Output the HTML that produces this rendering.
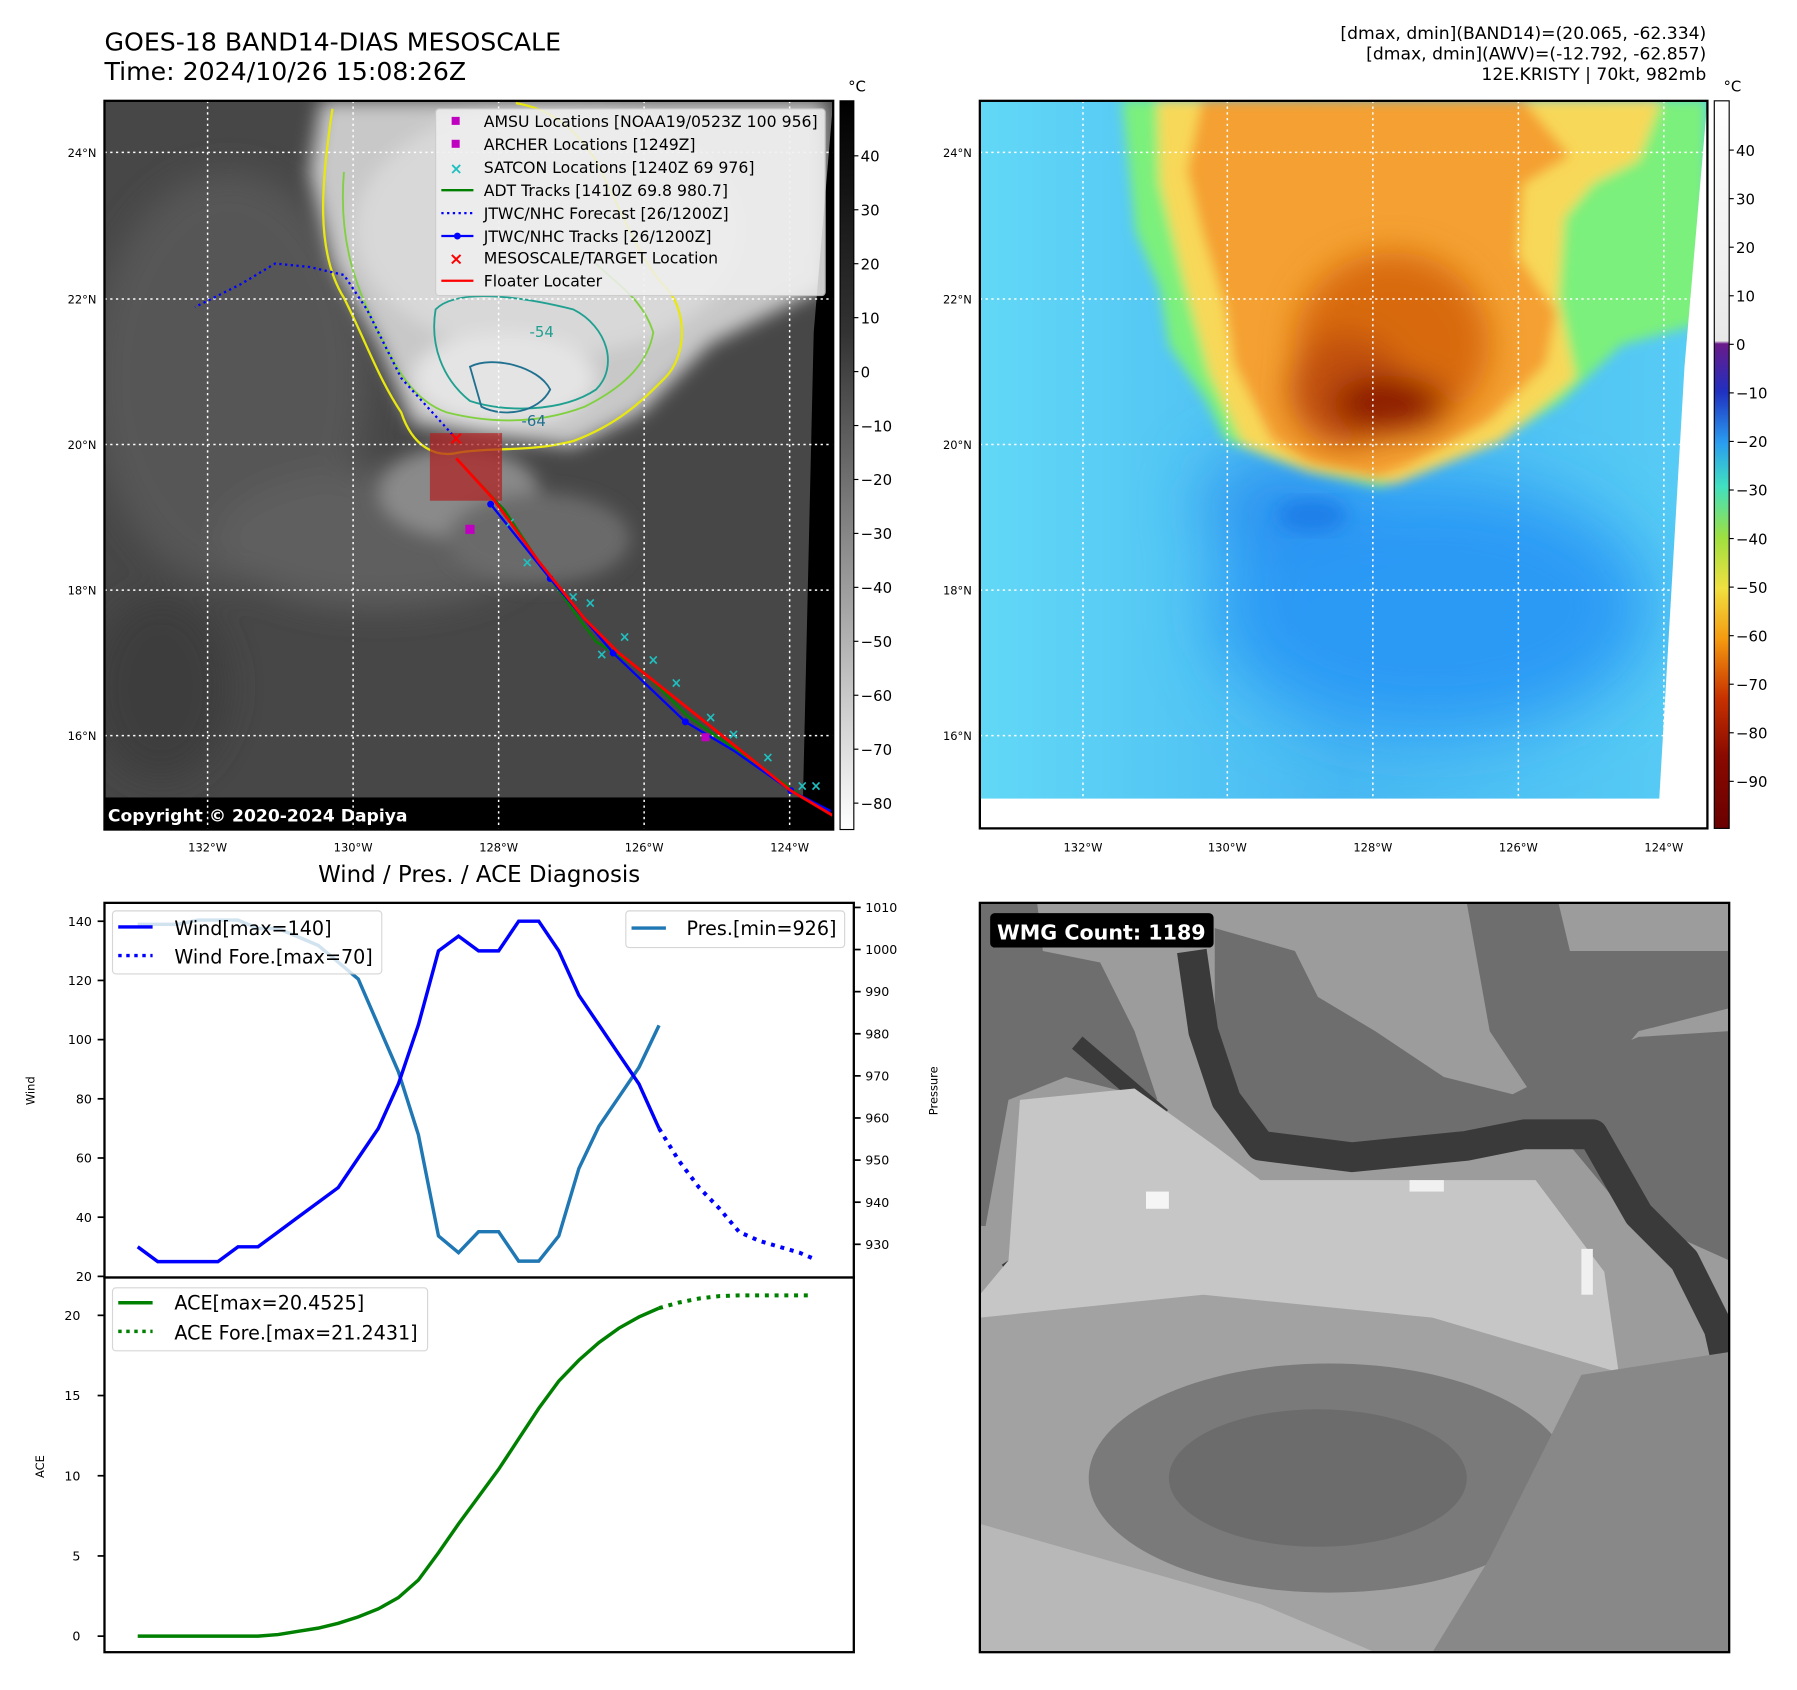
<!DOCTYPE html>
<html><head><meta charset="utf-8"><title>GOES-18 BAND14 KRISTY</title>
<style>
html,body{margin:0;padding:0;background:#fff;}
svg{display:block;}
text{font-family:"DejaVu Sans","Liberation Sans",sans-serif;}
</style></head>
<body>
<svg id="root" width="1797" height="1690" viewBox="0 0 1568 1475" xmlns="http://www.w3.org/2000/svg">
<defs>
  <filter id="blur5" x="-20%" y="-20%" width="140%" height="140%"><feGaussianBlur stdDeviation="5"/></filter>
  <filter id="blur8" x="-20%" y="-20%" width="140%" height="140%"><feGaussianBlur stdDeviation="8"/></filter>
  <filter id="blur14" x="-20%" y="-20%" width="140%" height="140%"><feGaussianBlur stdDeviation="14"/></filter>
  <filter id="blur30" x="-30%" y="-30%" width="160%" height="160%"><feGaussianBlur stdDeviation="30"/></filter>
  <linearGradient id="cb1" x1="0" y1="0" x2="0" y2="1">
    <stop offset="0" stop-color="#000"/><stop offset="0.32" stop-color="#333"/><stop offset="0.6" stop-color="#888"/><stop offset="1" stop-color="#fff"/>
  </linearGradient>
  <linearGradient id="cb2" x1="0" y1="0" x2="0" y2="1">
    <stop offset="0" stop-color="#fff"/><stop offset="0.33" stop-color="#e8e8e8"/><stop offset="0.334" stop-color="#6a1a8a"/>
    <stop offset="0.4" stop-color="#2030c0"/><stop offset="0.47" stop-color="#2a9df0"/><stop offset="0.53" stop-color="#40e0c0"/>
    <stop offset="0.6" stop-color="#9ee040"/><stop offset="0.67" stop-color="#f0e040"/><stop offset="0.74" stop-color="#f59a10"/>
    <stop offset="0.82" stop-color="#c83200"/><stop offset="0.9" stop-color="#8a0a00"/><stop offset="1" stop-color="#6a0000"/>
  </linearGradient>
  <linearGradient id="bg2" x1="0" y1="0" x2="1" y2="0">
    <stop offset="0" stop-color="#62d8f6"/><stop offset="0.5" stop-color="#48b8f2"/><stop offset="1" stop-color="#58cdf5"/>
  </linearGradient>
  <clipPath id="clip1"><rect x="91" y="88" width="636" height="636"/></clipPath>
  <clipPath id="clip2"><rect x="855" y="88" width="635" height="635"/></clipPath>
  <clipPath id="clip3"><rect x="855" y="788" width="654" height="654"/></clipPath>
</defs>

<text x="91" y="44" font-size="22">GOES-18 BAND14-DIAS MESOSCALE</text>
<text x="91" y="70" font-size="22">Time: 2024/10/26 15:08:26Z</text>
<g font-size="15" text-anchor="end">
  <text x="1489" y="34">[dmax, dmin](BAND14)=(20.065, -62.334)</text>
  <text x="1489" y="52">[dmax, dmin](AWV)=(-12.792, -62.857)</text>
  <text x="1489" y="70">12E.KRISTY | 70kt, 982mb</text>
</g>

<!-- MAP 1 -->
<g clip-path="url(#clip1)">
  <rect x="91" y="88" width="636" height="636" fill="#474747"/>
  <g filter="url(#blur14)">
    <ellipse cx="200" cy="330" rx="120" ry="180" fill="#575757"/>
    <ellipse cx="330" cy="470" rx="140" ry="60" fill="#5e5e5e"/>
    <ellipse cx="140" cy="600" rx="60" ry="80" fill="#3c3c3c"/>
  </g>
  <g filter="url(#blur8)">
    <path d="M280 88 L720 88 L720 250 L620 300 L560 360 L500 390 L420 380 L360 370 L330 300 L290 230 L270 150 Z" fill="#c8c8c8"/>
    <ellipse cx="480" cy="200" rx="170" ry="110" fill="#d8d8d8"/>
    <ellipse cx="440" cy="330" rx="80" ry="40" fill="#e4e4e4"/>
    <ellipse cx="400" cy="430" rx="70" ry="40" fill="#8a8a8a"/>
    <ellipse cx="470" cy="470" rx="80" ry="40" fill="#6a6a6a"/>
  </g>
  <path d="M710 290 L727 88 L727 724 L700 724 Z" fill="#000"/>
  <rect x="91" y="696" width="636" height="28" fill="#000"/>
  <path d="M290 95 C280 160 275 220 300 260 C320 300 330 330 350 360 C360 390 380 400 400 395 C430 390 460 395 500 385 C540 370 560 350 580 330 C600 310 600 270 580 250 C560 230 540 180 520 140 C500 110 480 95 450 90" fill="none" stroke="#e8e810" stroke-width="2"/>
  <path d="M300 150 C295 210 310 250 330 290 C345 320 360 350 390 360 C430 370 470 370 510 355 C540 340 565 320 570 290 C560 260 540 250 520 230" fill="none" stroke="#80d040" stroke-width="1.6"/>
  <path d="M380 270 C400 250 460 260 500 270 C530 285 540 320 520 340 C490 360 440 360 410 350 C385 330 375 300 380 270 Z" fill="none" stroke="#20a090" stroke-width="1.6"/>
  <path d="M410 320 C430 310 470 320 480 340 C470 360 440 365 420 355 Z" fill="none" stroke="#207090" stroke-width="1.6"/>
  <text x="462" y="294" font-size="13" fill="#20a090">-54</text>
  <text x="455" y="372" font-size="13" fill="#207090">-64</text>
  <g stroke="#fff" stroke-width="1.3" stroke-dasharray="2,3">
    <line x1="91" y1="133" x2="727" y2="133"/><line x1="91" y1="261" x2="727" y2="261"/><line x1="91" y1="388" x2="727" y2="388"/><line x1="91" y1="515" x2="727" y2="515"/><line x1="91" y1="642" x2="727" y2="642"/>
    <line x1="181" y1="88" x2="181" y2="724"/><line x1="308" y1="88" x2="308" y2="724"/><line x1="435" y1="88" x2="435" y2="724"/><line x1="562" y1="88" x2="562" y2="724"/><line x1="689" y1="88" x2="689" y2="724"/>
  </g>
  <rect x="375" y="378" width="63" height="59" fill="#b02020" opacity="0.7"/>
  <path d="M398 383 L350 330 L320 270 L300 240 L270 233 L240 230 L210 248 L170 268" fill="none" stroke="#0000ff" stroke-width="2" stroke-dasharray="2,3"/>
  <path d="M398 400 L440 445 L480 505 L520 560 L560 585 L600 625 L650 660 L700 695 L727 712" fill="none" stroke="#008000" stroke-width="2"/>
  <path d="M428 440 L480 505 L535 570 L598 630 L640 655 L690 690 L725 708" fill="none" stroke="#0000ff" stroke-width="2"/>
  <g fill="#0000ff"><circle cx="428" cy="440" r="3"/><circle cx="480" cy="505" r="3"/><circle cx="535" cy="570" r="3"/><circle cx="598" cy="630" r="3"/><circle cx="690" cy="690" r="3"/></g>
  <g fill="#20c0c0" font-size="12" font-weight="bold" text-anchor="middle">
    <text x="445" y="460">×</text><text x="460" y="495">×</text><text x="500" y="525">×</text><text x="515" y="530">×</text><text x="525" y="575">×</text><text x="545" y="560">×</text><text x="570" y="580">×</text><text x="590" y="600">×</text><text x="620" y="630">×</text><text x="640" y="645">×</text><text x="670" y="665">×</text><text x="700" y="690">×</text><text x="712" y="690">×</text>
  </g>
  <path d="M398 400 L430 435 L470 490 L510 540 L540 570 L590 610 L640 650 L690 690 L727 712" fill="none" stroke="#ff0000" stroke-width="2.5"/>
  <rect x="406" y="458" width="8" height="8" fill="#c000c0"/>
  <rect x="612" y="640" width="7" height="7" fill="#c000c0"/>
  <text x="398" y="388" font-size="16" fill="#ff0000" font-weight="bold" text-anchor="middle">×</text>
  <g>
    <rect x="380" y="95" width="340" height="163" fill="#f0f0f0" opacity="0.85" stroke="#ccc" rx="3"/>
    <g font-size="13.7">
      <rect x="394" y="102" width="7" height="7" fill="#c000c0"/><text x="422" y="111">AMSU Locations [NOAA19/0523Z 100 956]</text>
      <rect x="394" y="122" width="7" height="7" fill="#c000c0"/><text x="422" y="131">ARCHER Locations [1249Z]</text>
      <text x="398" y="152" fill="#20c0c0" text-anchor="middle" font-weight="bold">×</text><text x="422" y="151">SATCON Locations [1240Z 69 976]</text>
      <line x1="385" y1="166" x2="413" y2="166" stroke="#008000" stroke-width="2"/><text x="422" y="171">ADT Tracks [1410Z 69.8 980.7]</text>
      <line x1="385" y1="186" x2="413" y2="186" stroke="#0000ff" stroke-width="2" stroke-dasharray="2,3"/><text x="422" y="191">JTWC/NHC Forecast [26/1200Z]</text>
      <line x1="385" y1="206" x2="413" y2="206" stroke="#0000ff" stroke-width="2"/><circle cx="399" cy="206" r="3" fill="#0000ff"/><text x="422" y="211">JTWC/NHC Tracks [26/1200Z]</text>
      <text x="398" y="231" fill="#ff0000" text-anchor="middle" font-weight="bold" font-size="15">×</text><text x="422" y="230">MESOSCALE/TARGET Location</text>
      <line x1="385" y1="245" x2="413" y2="245" stroke="#ff0000" stroke-width="2"/><text x="422" y="250">Floater Locater</text>
    </g>
  </g>
  <text x="94" y="717" font-size="15" font-weight="bold" fill="#fff">Copyright © 2020-2024 Dapiya</text>
</g>
<rect x="91" y="88" width="636" height="636" fill="none" stroke="#000" stroke-width="2"/>
<g font-size="10" text-anchor="end">
  <text x="84" y="137">24°N</text><text x="84" y="265">22°N</text><text x="84" y="392">20°N</text><text x="84" y="519">18°N</text><text x="84" y="646">16°N</text>
</g>
<g font-size="10" text-anchor="middle">
  <text x="181" y="743">132°W</text><text x="308" y="743">130°W</text><text x="435" y="743">128°W</text><text x="562" y="743">126°W</text><text x="689" y="743">124°W</text>
</g>
<g>
  <rect x="733" y="88" width="12" height="636" fill="url(#cb1)" stroke="#000"/>
  <text x="740" y="80" font-size="13">°C</text>
  <g font-size="13" id="cb1ticks"></g>
</g>

<!-- MAP 2 -->
<g clip-path="url(#clip2)">
  <rect x="855" y="88" width="635" height="635" fill="url(#bg2)"/>
  <g filter="url(#blur30)">
    <ellipse cx="1250" cy="530" rx="190" ry="110" fill="#2a9af5"/>
    <ellipse cx="1120" cy="440" rx="70" ry="40" fill="#2a90f0"/>
  </g>
  <ellipse cx="1145" cy="450" rx="30" ry="14" fill="#1f7ee8" filter="url(#blur8)"/>
  <g filter="url(#blur5)">
    <path d="M979 87 L1489 87 L1489 281 L1415 301 L1362 351 L1308 384 L1226 417 L1205 425 L1143 412 L1110 400 L1069 384 L1053 351 L1020 301 L1012 252 L991 202 Z" fill="#7cf07c"/>
    <path d="M1010 87 L1450 87 L1430 140 L1390 160 L1365 190 L1360 260 L1375 330 L1310 385 L1218 422 L1140 410 L1085 388 L1055 325 L1033 245 L1012 160 Z" fill="#f8d858"/>
    <path d="M1049 87 L1329 87 L1370 136 L1329 161 L1325 223 L1358 272 L1349 318 L1300 367 L1226 408 L1201 417 L1143 404 L1110 384 L1077 318 L1069 268 L1049 202 L1036 149 Z" fill="#f4a030"/>
  </g>
  <g filter="url(#blur14)">
    <ellipse cx="1215" cy="300" rx="85" ry="80" fill="#d86a10"/>
    <ellipse cx="1175" cy="340" rx="50" ry="50" fill="#c05008"/>
    <ellipse cx="1212" cy="352" rx="50" ry="24" fill="#8a1800"/>
  </g>
  <path d="M1470 320 L1490 88 L1490 723 L1448 723 L1448 697 Z" fill="#fff"/>
  <rect x="855" y="697" width="635" height="26" fill="#fff"/>
  <g stroke="#fff" stroke-width="1.3" stroke-dasharray="2,3">
    <line x1="855" y1="133" x2="1490" y2="133"/><line x1="855" y1="261" x2="1490" y2="261"/><line x1="855" y1="388" x2="1490" y2="388"/><line x1="855" y1="515" x2="1490" y2="515"/><line x1="855" y1="642" x2="1490" y2="642"/>
    <line x1="945" y1="88" x2="945" y2="723"/><line x1="1071" y1="88" x2="1071" y2="723"/><line x1="1198" y1="88" x2="1198" y2="723"/><line x1="1325" y1="88" x2="1325" y2="723"/><line x1="1452" y1="88" x2="1452" y2="723"/>
  </g>
</g>
<rect x="855" y="88" width="635" height="635" fill="none" stroke="#000" stroke-width="2"/>
<g font-size="10" text-anchor="end">
  <text x="848" y="137">24°N</text><text x="848" y="265">22°N</text><text x="848" y="392">20°N</text><text x="848" y="519">18°N</text><text x="848" y="646">16°N</text>
</g>
<g font-size="10" text-anchor="middle">
  <text x="945" y="743">132°W</text><text x="1071" y="743">130°W</text><text x="1198" y="743">128°W</text><text x="1325" y="743">126°W</text><text x="1452" y="743">124°W</text>
</g>
<g>
  <rect x="1496" y="88" width="13" height="635" fill="url(#cb2)" stroke="#000"/>
  <text x="1504" y="80" font-size="13">°C</text>
  <g font-size="13" id="cb2ticks"></g>
</g>

<!-- DIAGNOSIS CHART -->
<text x="418" y="770" font-size="20" text-anchor="middle">Wind / Pres. / ACE Diagnosis</text>
<g id="diag">
  <rect x="91" y="788" width="654" height="327" fill="#fff" stroke="#000" stroke-width="2"/>
  <rect x="91" y="1115" width="654" height="327" fill="#fff" stroke="#000" stroke-width="2"/>
  <text transform="translate(30,952) rotate(-90)" font-size="10" text-anchor="middle">Wind</text>
  <text transform="translate(818,952) rotate(-90)" font-size="10" text-anchor="middle">Pressure</text>
  <text transform="translate(38,1280) rotate(-90)" font-size="10" text-anchor="middle">ACE</text>
  <g id="ticks"></g>
  <g id="series"></g>
  <g>
    <rect x="98" y="795" width="235" height="55" fill="#fff" opacity="0.8" stroke="#ccc" rx="3"/>
    <line x1="103" y1="809" x2="133" y2="809" stroke="#0000ff" stroke-width="3"/><text x="152" y="816" font-size="16.7">Wind[max=140]</text>
    <line x1="103" y1="834" x2="133" y2="834" stroke="#0000ff" stroke-width="3" stroke-dasharray="3,4"/><text x="152" y="841" font-size="16.7">Wind Fore.[max=70]</text>
  </g>
  <g>
    <rect x="546" y="795" width="191" height="32" fill="#fff" opacity="0.8" stroke="#ccc" rx="3"/>
    <line x1="551" y1="810" x2="581" y2="810" stroke="#1f77b4" stroke-width="3"/><text x="599" y="816" font-size="16.7">Pres.[min=926]</text>
  </g>
  <g>
    <rect x="98" y="1124" width="275" height="55" fill="#fff" opacity="0.8" stroke="#ccc" rx="3"/>
    <line x1="103" y1="1137" x2="133" y2="1137" stroke="#008000" stroke-width="3"/><text x="152" y="1143" font-size="16.7">ACE[max=20.4525]</text>
    <line x1="103" y1="1162" x2="133" y2="1162" stroke="#008000" stroke-width="3" stroke-dasharray="3,4"/><text x="152" y="1169" font-size="16.7">ACE Fore.[max=21.2431]</text>
  </g>
</g>

<!-- WMG PANEL -->
<g clip-path="url(#clip3)">
  <rect x="855" y="788" width="654" height="654" fill="#9c9c9c"/>
  <path d="M855 788 L905 788 L910 830 L960 840 L990 900 L1010 960 L930 940 L880 960 L860 1070 L855 1070 Z" fill="#6e6e6e"/>
  <path d="M1060 810 L1130 830 L1150 870 L1200 900 L1260 940 L1320 955 L1370 930 L1430 905 L1509 900 L1509 1100 L1420 1060 L1370 1000 L1320 990 L1260 1000 L1180 1000 L1100 990 L1060 940 Z" fill="#6e6e6e"/>
  <path d="M1280 788 L1360 788 L1370 830 L1509 830 L1509 880 L1430 900 L1380 960 L1340 960 L1300 900 Z" fill="#6e6e6e"/>
  <path d="M1040 830 L1050 900 L1070 960 L1100 1000 L1180 1010 L1280 1000 L1330 990 L1390 990 L1430 1060 L1470 1100 L1500 1160 L1509 1200" fill="none" stroke="#3a3a3a" stroke-width="26" stroke-linejoin="round"/>
  <path d="M940 910 L1010 970 L940 1080 L900 1130 L880 1100" fill="none" stroke="#3a3a3a" stroke-width="14"/>
  <path d="M890 960 L990 950 L1060 1000 L1100 1030 L1340 1030 L1400 1110 L1420 1250 L1380 1300 L1200 1330 L1000 1320 L855 1280 L855 1130 L880 1100 Z" fill="#c6c6c6"/>
  <path d="M855 1150 L1050 1130 L1250 1150 L1420 1200 L1509 1190 L1509 1442 L855 1442 Z" fill="#a2a2a2"/>
  <ellipse cx="1160" cy="1290" rx="210" ry="100" fill="#7a7a7a"/>
  <ellipse cx="1150" cy="1290" rx="130" ry="60" fill="#6c6c6c"/>
  <path d="M1380 1200 L1509 1180 L1509 1442 L1250 1442 L1300 1360 Z" fill="#888"/>
  <path d="M855 1330 L960 1360 L1100 1400 L1200 1442 L855 1442 Z" fill="#b8b8b8"/>
  <rect x="1230" y="1030" width="30" height="10" fill="#f0f0f0"/><rect x="1380" y="1090" width="10" height="40" fill="#f0f0f0"/><rect x="1000" y="1040" width="20" height="15" fill="#f5f5f5"/>
  <rect x="864" y="797" width="195" height="30" rx="4" fill="#000"/>
  <text x="870" y="820" font-size="18" font-weight="bold" fill="#fff">WMG Count: 1189</text>
</g>
<rect x="855" y="788" width="654" height="654" fill="none" stroke="#000" stroke-width="2"/>
</svg>

<script>
var windVals = [30,25,25,25,25,30,30,35,40,45,50,60,70,85,105,130,135,130,130,140,140,130,115,105,95,85,70];
var windFore = [70,59,50,43,35,32,30,28,26];
var presVals = [1006,1006,1006,1007,1007,1007,1005,1005,1003,1001,997,993,982,971,956,932,928,933,933,926,926,932,948,958,965,972,982];
var aceVals = [0,0,0,0,0,0,0,0.1,0.3,0.5,0.8,1.2,1.7,2.4,3.5,5.2,7.0,8.7,10.4,12.3,14.2,15.9,17.2,18.3,19.2,19.9,20.45];
var aceFore = [20.45,20.8,21.05,21.2,21.24,21.24,21.24,21.24,21.24];
var foreSteps = [0,1,2,3,4,5,6,7,7.7];
var windTicks = [20,40,60,80,100,120,140];
var presTicks = [930,940,950,960,970,980,990,1000,1010];
var aceTicks = [0,5,10,15,20];
var cb1Ticks = [40,30,20,10,0,-10,-20,-30,-40,-50,-60,-70,-80];
var cb2Ticks = [40,30,20,10,0,-10,-20,-30,-40,-50,-60,-70,-80,-90];

var NS = "http://www.w3.org/2000/svg";
function xOf(i){ return 120 + i*17.5; }
function yWind(v){ return 1114 - (v-20)*2.583; }
function yPres(v){ return 792 + (1010-v)*3.675; }
function yAce(v){ return 1428 - v*14; }
function yCb1(v){ return 136 + (40-v)*4.708; }
function yCb2(v){ return 131 + (40-v)*4.238; }

function mk(tag, attrs, parent){
  var e = document.createElementNS(NS, tag);
  for (var k in attrs) e.setAttribute(k, attrs[k]);
  parent.appendChild(e);
  return e;
}
var ticksG = document.getElementById('ticks');
var seriesG = document.getElementById('series');

windTicks.forEach(function(v){
  var y = yWind(v);
  var t = mk('line', {x1:85, y1:y, x2:91, y2:y, stroke:'#000', 'stroke-width':1.5}, ticksG);
  
  
  var l = mk('text', {x:80, y:y+4, 'font-size':11, 'text-anchor':'end'}, ticksG);
  l.textContent = v;
  
  
});
presTicks.forEach(function(v){
  var y = yPres(v);
  var t = mk('line', {x1:745, y1:y, x2:751, y2:y, stroke:'#000', 'stroke-width':1.5}, ticksG);
  
  
  var l = mk('text', {x:755, y:y+4, 'font-size':11}, ticksG);
  l.textContent = v;
  
  
});
aceTicks.forEach(function(v){
  var y = yAce(v);
  var t = mk('line', {x1:85, y1:y, x2:91, y2:y, stroke:'#000', 'stroke-width':1.5}, ticksG);
  
  
  var l = mk('text', {x:70, y:y+4, 'font-size':11, 'text-anchor':'end'}, ticksG);
  l.textContent = v;
  
  
});
var last = windVals.length - 1;
function pts(arr, yf, offs){
  return arr.map(function(v,i){ var xi = offs ? last + offs[i] : i; return xOf(xi).toFixed(1)+','+yf(v).toFixed(1); }).join(' ');
}
var p;
p = mk('polyline', {points:pts(presVals, yPres), fill:'none', stroke:'#1f77b4', 'stroke-width':3}, seriesG);


p = mk('polyline', {points:pts(windVals, yWind), fill:'none', stroke:'#0000ff', 'stroke-width':3}, seriesG);


p = mk('polyline', {points:pts(windFore, yWind, foreSteps), fill:'none', stroke:'#0000ff', 'stroke-width':3.5, 'stroke-dasharray':'3.5,5'}, seriesG);


p = mk('polyline', {points:pts(aceVals, yAce), fill:'none', stroke:'#008000', 'stroke-width':3}, seriesG);


p = mk('polyline', {points:pts(aceFore, yAce, foreSteps), fill:'none', stroke:'#008000', 'stroke-width':3.5, 'stroke-dasharray':'3.5,5'}, seriesG);



var cb1 = document.getElementById('cb1ticks');
cb1Ticks.forEach(function(v){
  var y = yCb1(v);
  mk('line', {x1:745, y1:y, x2:749, y2:y, stroke:'#000'}, cb1);
  var l = mk('text', {x:751, y:y+5}, cb1);
  l.textContent = v < 0 ? '\u2212' + Math.abs(v) : v;
  
  
});
var cb2 = document.getElementById('cb2ticks');
cb2Ticks.forEach(function(v){
  var y = yCb2(v);
  mk('line', {x1:1509, y1:y, x2:1513, y2:y, stroke:'#000'}, cb2);
  var l = mk('text', {x:1515, y:y+5}, cb2);
  l.textContent = v < 0 ? '\u2212' + Math.abs(v) : v;
  
  
});
</script>
</body></html>
